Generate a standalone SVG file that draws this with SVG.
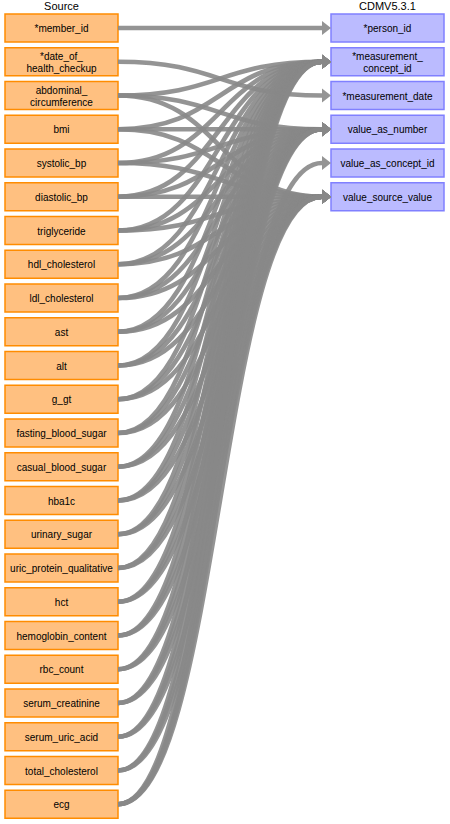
<svg xmlns="http://www.w3.org/2000/svg" width="450" height="824" viewBox="0 0 450 824">
<style>
text{font-family:"Liberation Sans",Arial,sans-serif;font-size:10px;fill:#000;text-anchor:middle}
.h{font-size:11px}
.s{fill:#FFC080;stroke:#FF8C00;stroke-width:1.5}
.t{fill:#BBBBFF;stroke:#8080FF;stroke-width:1.5}
.c path{fill:none;stroke:#888;stroke-opacity:0.9;stroke-width:4.6;marker-end:url(#a)}
</style>
<defs>
<marker id="a" markerUnits="userSpaceOnUse" markerWidth="10" markerHeight="14" refX="0" refY="7" orient="auto" overflow="visible">
<path d="M0,0L9,7L0,14z" fill="#888" fill-opacity="0.9"/>
</marker>
</defs>
<rect width="450" height="824" fill="#fff"/>
<text class="h" x="61.5" y="10">Source</text>
<text class="h" x="387.5" y="10">CDMV5.3.1</text>
<g id="source">
<g id="s0"><rect class="s" x="5" y="14" width="113" height="28"/><text x="61.5" y="32">*member_id</text></g>
<g id="s1"><rect class="s" x="5" y="47.75" width="113" height="28"/><text x="61.5" y="59.75">*date_of_</text><text x="61.5" y="71.75">health_checkup</text></g>
<g id="s2"><rect class="s" x="5" y="81.5" width="113" height="28"/><text x="61.5" y="93.5">abdominal_</text><text x="61.5" y="105.5">circumference</text></g>
<g id="s3"><rect class="s" x="5" y="115.25" width="113" height="28"/><text x="61.5" y="133.25">bmi</text></g>
<g id="s4"><rect class="s" x="5" y="149" width="113" height="28"/><text x="61.5" y="167">systolic_bp</text></g>
<g id="s5"><rect class="s" x="5" y="182.75" width="113" height="28"/><text x="61.5" y="200.75">diastolic_bp</text></g>
<g id="s6"><rect class="s" x="5" y="216.5" width="113" height="28"/><text x="61.5" y="234.5">triglyceride</text></g>
<g id="s7"><rect class="s" x="5" y="250.25" width="113" height="28"/><text x="61.5" y="268.25">hdl_cholesterol</text></g>
<g id="s8"><rect class="s" x="5" y="284" width="113" height="28"/><text x="61.5" y="302">ldl_cholesterol</text></g>
<g id="s9"><rect class="s" x="5" y="317.75" width="113" height="28"/><text x="61.5" y="335.75">ast</text></g>
<g id="s10"><rect class="s" x="5" y="351.5" width="113" height="28"/><text x="61.5" y="369.5">alt</text></g>
<g id="s11"><rect class="s" x="5" y="385.25" width="113" height="28"/><text x="61.5" y="403.25">g_gt</text></g>
<g id="s12"><rect class="s" x="5" y="419" width="113" height="28"/><text x="61.5" y="437">fasting_blood_sugar</text></g>
<g id="s13"><rect class="s" x="5" y="452.75" width="113" height="28"/><text x="61.5" y="470.75">casual_blood_sugar</text></g>
<g id="s14"><rect class="s" x="5" y="486.5" width="113" height="28"/><text x="61.5" y="504.5">hba1c</text></g>
<g id="s15"><rect class="s" x="5" y="520.25" width="113" height="28"/><text x="61.5" y="538.25">urinary_sugar</text></g>
<g id="s16"><rect class="s" x="5" y="554" width="113" height="28"/><text x="61.5" y="572">uric_protein_qualitative</text></g>
<g id="s17"><rect class="s" x="5" y="587.75" width="113" height="28"/><text x="61.5" y="605.75">hct</text></g>
<g id="s18"><rect class="s" x="5" y="621.5" width="113" height="28"/><text x="61.5" y="639.5">hemoglobin_content</text></g>
<g id="s19"><rect class="s" x="5" y="655.25" width="113" height="28"/><text x="61.5" y="673.25">rbc_count</text></g>
<g id="s20"><rect class="s" x="5" y="689" width="113" height="28"/><text x="61.5" y="707">serum_creatinine</text></g>
<g id="s21"><rect class="s" x="5" y="722.75" width="113" height="28"/><text x="61.5" y="740.75">serum_uric_acid</text></g>
<g id="s22"><rect class="s" x="5" y="756.5" width="113" height="28"/><text x="61.5" y="774.5">total_cholesterol</text></g>
<g id="s23"><rect class="s" x="5" y="790.25" width="113" height="28"/><text x="61.5" y="808.25">ecg</text></g>
</g>
<g id="target">
<g id="t0"><rect class="t" x="331" y="14" width="113" height="28"/><text x="387.5" y="32">*person_id</text></g>
<g id="t1"><rect class="t" x="331" y="47.75" width="113" height="28"/><text x="387.5" y="59.75">*measurement_</text><text x="387.5" y="71.75">concept_id</text></g>
<g id="t2"><rect class="t" x="331" y="81.5" width="113" height="28"/><text x="387.5" y="99.5">*measurement_date</text></g>
<g id="t3"><rect class="t" x="331" y="115.25" width="113" height="28"/><text x="387.5" y="133.25">value_as_number</text></g>
<g id="t4"><rect class="t" x="331" y="149" width="113" height="28"/><text x="387.5" y="167">value_as_concept_id</text></g>
<g id="t5"><rect class="t" x="331" y="182.75" width="113" height="28"/><text x="387.5" y="200.75">value_source_value</text></g>
</g>
<g id="connectors" class="c">
<path d="M118,28C220,28 220,28 322,28"/>
<path d="M118,61.75C220,61.75 220,95.5 322,95.5"/>
<path d="M118,95.5C220,95.5 220,61.75 322,61.75"/><path d="M118,95.5C220,95.5 220,129.25 322,129.25"/><path d="M118,95.5C220,95.5 220,196.75 322,196.75"/>
<path d="M118,129.25C220,129.25 220,61.75 322,61.75"/><path d="M118,129.25C220,129.25 220,129.25 322,129.25"/><path d="M118,129.25C220,129.25 220,196.75 322,196.75"/>
<path d="M118,163C220,163 220,61.75 322,61.75"/><path d="M118,163C220,163 220,129.25 322,129.25"/><path d="M118,163C220,163 220,196.75 322,196.75"/>
<path d="M118,196.75C220,196.75 220,61.75 322,61.75"/><path d="M118,196.75C220,196.75 220,129.25 322,129.25"/><path d="M118,196.75C220,196.75 220,196.75 322,196.75"/>
<path d="M118,230.5C220,230.5 220,61.75 322,61.75"/><path d="M118,230.5C220,230.5 220,129.25 322,129.25"/><path d="M118,230.5C220,230.5 220,196.75 322,196.75"/>
<path d="M118,264.25C220,264.25 220,61.75 322,61.75"/><path d="M118,264.25C220,264.25 220,129.25 322,129.25"/><path d="M118,264.25C220,264.25 220,196.75 322,196.75"/>
<path d="M118,298C220,298 220,61.75 322,61.75"/><path d="M118,298C220,298 220,129.25 322,129.25"/><path d="M118,298C220,298 220,196.75 322,196.75"/>
<path d="M118,331.75C220,331.75 220,61.75 322,61.75"/><path d="M118,331.75C220,331.75 220,129.25 322,129.25"/><path d="M118,331.75C220,331.75 220,196.75 322,196.75"/>
<path d="M118,365.5C220,365.5 220,61.75 322,61.75"/><path d="M118,365.5C220,365.5 220,129.25 322,129.25"/><path d="M118,365.5C220,365.5 220,196.75 322,196.75"/>
<path d="M118,399.25C220,399.25 220,61.75 322,61.75"/><path d="M118,399.25C220,399.25 220,129.25 322,129.25"/><path d="M118,399.25C220,399.25 220,196.75 322,196.75"/>
<path d="M118,433C220,433 220,61.75 322,61.75"/><path d="M118,433C220,433 220,129.25 322,129.25"/><path d="M118,433C220,433 220,196.75 322,196.75"/>
<path d="M118,466.75C220,466.75 220,61.75 322,61.75"/><path d="M118,466.75C220,466.75 220,129.25 322,129.25"/><path d="M118,466.75C220,466.75 220,196.75 322,196.75"/>
<path d="M118,500.5C220,500.5 220,61.75 322,61.75"/><path d="M118,500.5C220,500.5 220,129.25 322,129.25"/><path d="M118,500.5C220,500.5 220,196.75 322,196.75"/>
<path d="M118,534.25C220,534.25 220,61.75 322,61.75"/><path d="M118,534.25C220,534.25 220,129.25 322,129.25"/><path d="M118,534.25C220,534.25 220,196.75 322,196.75"/>
<path d="M118,568C220,568 220,61.75 322,61.75"/><path d="M118,568C220,568 220,129.25 322,129.25"/><path d="M118,568C220,568 220,196.75 322,196.75"/>
<path d="M118,601.75C220,601.75 220,61.75 322,61.75"/><path d="M118,601.75C220,601.75 220,129.25 322,129.25"/><path d="M118,601.75C220,601.75 220,196.75 322,196.75"/>
<path d="M118,635.5C220,635.5 220,61.75 322,61.75"/><path d="M118,635.5C220,635.5 220,129.25 322,129.25"/><path d="M118,635.5C220,635.5 220,196.75 322,196.75"/>
<path d="M118,669.25C220,669.25 220,61.75 322,61.75"/><path d="M118,669.25C220,669.25 220,129.25 322,129.25"/><path d="M118,669.25C220,669.25 220,196.75 322,196.75"/>
<path d="M118,703C220,703 220,61.75 322,61.75"/><path d="M118,703C220,703 220,129.25 322,129.25"/><path d="M118,703C220,703 220,196.75 322,196.75"/>
<path d="M118,736.75C220,736.75 220,61.75 322,61.75"/><path d="M118,736.75C220,736.75 220,129.25 322,129.25"/><path d="M118,736.75C220,736.75 220,196.75 322,196.75"/>
<path d="M118,770.5C220,770.5 220,61.75 322,61.75"/><path d="M118,770.5C220,770.5 220,129.25 322,129.25"/><path d="M118,770.5C220,770.5 220,196.75 322,196.75"/>
<path d="M118,804.25C220,804.25 220,61.75 322,61.75"/><path d="M118,804.25C220,804.25 220,129.25 322,129.25"/><path d="M118,804.25C220,804.25 220,163 322,163"/><path d="M118,804.25C220,804.25 220,196.75 322,196.75"/>
</g>
</svg>
